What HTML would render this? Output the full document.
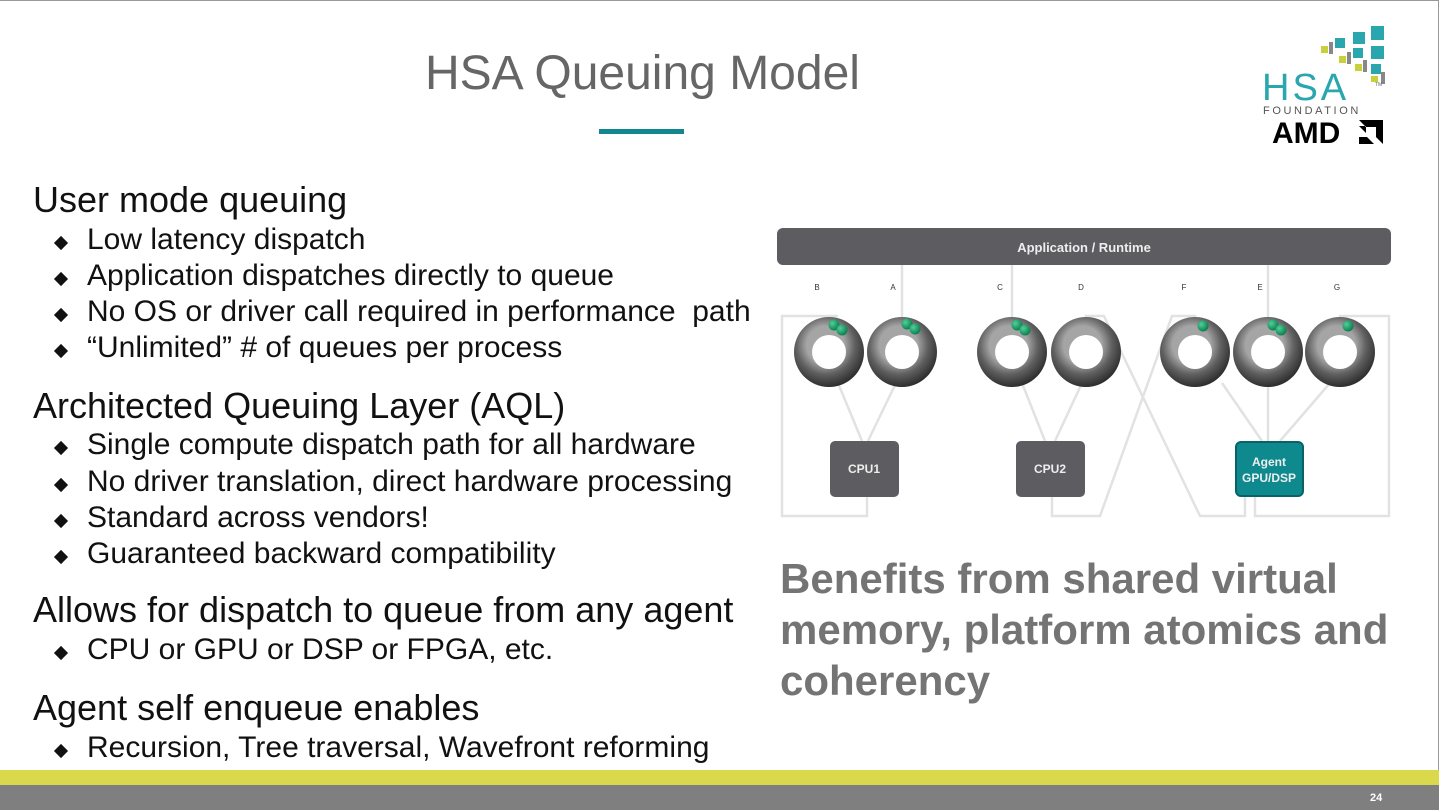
<!DOCTYPE html>
<html><head><meta charset="utf-8"><style>
body{margin:0;width:1439px;height:810px;position:relative;background:#fff;overflow:hidden;font-family:"Liberation Sans",Arial,sans-serif;}
.t{position:absolute;white-space:nowrap;line-height:1;color:#111;}
.h{font-size:36px;left:33px;}
.b{font-size:30px;left:87px;}
.d{position:absolute;left:56px;width:10px;height:10px;background:#111;transform:rotate(45deg);}
.ben{position:absolute;left:780px;font-size:42px;font-weight:bold;color:#747474;line-height:1;white-space:nowrap;}
</style></head><body>
<div style="position:absolute;left:0;top:0;width:1438px;height:1px;background:#999"></div>
<div style="position:absolute;right:0;top:0;width:1px;height:770px;background:#999"></div>
<div class="t" style="left:425px;top:50px;font-size:48px;color:#666;">HSA Queuing Model</div>
<div style="position:absolute;left:599px;top:129px;width:85px;height:5px;background:#13878d"></div>

<!-- logo -->
<svg style="position:absolute;left:1255px;top:20px" width="140" height="130">
<g fill="#2aa6ae"><rect x="116" y="6" width="13" height="14"/><rect x="98" y="12" width="12" height="12"/><rect x="80" y="18" width="10" height="10"/><rect x="116" y="26" width="13" height="13"/><rect x="98" y="28" width="10" height="10"/><rect x="116" y="44" width="10" height="10"/></g>
<g fill="#c8d13a"><rect x="66" y="26" width="7" height="7"/><rect x="84" y="36" width="7" height="7"/><rect x="100" y="44" width="7" height="7"/><rect x="116" y="56" width="7" height="6"/></g>
<g fill="#888"><rect x="74" y="22" width="4" height="12"/><rect x="92" y="32" width="4" height="12"/><rect x="108" y="40" width="4" height="12"/><rect x="126" y="52" width="4" height="12"/></g>
<text x="7" y="80" font-size="38" fill="#2aa6ae" font-family="Liberation Sans" letter-spacing="3">HSA</text>
<text x="120" y="66" font-size="5" fill="#666">TM</text>
<text x="8" y="94" font-size="11" fill="#555" letter-spacing="2.6">FOUNDATION</text>
<text x="17" y="123" font-size="30" font-weight="bold" fill="#000" font-family="Liberation Sans">AMD</text>
<path d="M104 100h24v24l-7-7v-10h-10z M104 106l7 7v-7z M104 109v15h15l-7-7h-8z" fill="#000"/>
</svg>

<div class="t h" style="top:182px">User mode queuing</div>
<div class="d" style="top:238px"></div><div class="t b" style="top:225px">Low latency dispatch</div>
<div class="d" style="top:274px"></div><div class="t b" style="top:261px">Application dispatches directly to queue</div>
<div class="d" style="top:310px"></div><div class="t b" style="top:297px">No OS or driver call required in performance&nbsp; path</div>
<div class="d" style="top:346px"></div><div class="t b" style="top:333px">“Unlimited” # of queues per process</div>
<div class="t h" style="top:388px">Architected Queuing Layer (AQL)</div>
<div class="d" style="top:443px"></div><div class="t b" style="top:430px">Single compute dispatch path for all hardware</div>
<div class="d" style="top:480px"></div><div class="t b" style="top:467px">No driver translation, direct hardware processing</div>
<div class="d" style="top:516px"></div><div class="t b" style="top:503px">Standard across vendors!</div>
<div class="d" style="top:552px"></div><div class="t b" style="top:539px">Guaranteed backward compatibility</div>
<div class="t h" style="top:592px">Allows for dispatch to queue from any agent</div>
<div class="d" style="top:648px"></div><div class="t b" style="top:635px">CPU or GPU or DSP or FPGA, etc.</div>
<div class="t h" style="top:690px">Agent self enqueue enables</div>
<div class="d" style="top:746px"></div><div class="t b" style="top:733px">Recursion, Tree traversal, Wavefront reforming</div>

<svg style="position:absolute;left:0;top:0" width="1439" height="810">
<defs>
<radialGradient id="rg" cx="0.45" cy="0.4" r="0.6"><stop offset="0.45" stop-color="#a5a5a5"/><stop offset="0.7" stop-color="#606060"/><stop offset="1" stop-color="#2e2e2e"/></radialGradient>
<radialGradient id="gb" cx="0.35" cy="0.35" r="0.7"><stop offset="0" stop-color="#4fd09a"/><stop offset="1" stop-color="#0a7a4c"/></radialGradient>
</defs>
<rect x="777" y="228" width="614" height="37" rx="6" fill="#5d5c61"/>
<text x="1084" y="252" text-anchor="middle" font-size="13" font-weight="bold" fill="#eee">Application / Runtime</text>
<g font-size="8" fill="#333" text-anchor="middle">
<text x="817" y="290">B</text><text x="893" y="290">A</text><text x="1000" y="290">C</text><text x="1081" y="290">D</text><text x="1184" y="290">F</text><text x="1260" y="290">E</text><text x="1337" y="290">G</text></g>
<g stroke="#e2e2e2" stroke-width="2.5" fill="none">
<path d="M902 265V335M1012 265V335M1268 265V335"/>
<path d="M830 335V316M838 316H782V516H867V497"/>
<path d="M1086 335V316H1104L1200 516H1245V497"/>
<path d="M1195 335V316H1172L1100 516H1052V497"/>
<path d="M1340 335V316H1389V516H1255V497"/>
<path d="M838 383L862 441M896 383L868 441M1022 383L1045 441M1082 383L1055 441M1222 383L1262 441M1268 383V441M1330 383L1280 441"/>
</g>
<g fill="#ddd"><path d="M826 332h8l-4 5zM898 332h8l-4 5zM1008 332h8l-4 5zM1082 332h8l-4 5zM1191 332h8l-4 5zM1264 332h8l-4 5zM1336 332h8l-4 5z"/></g>
<g>
<circle cx="829" cy="352" r="35" fill="url(#rg)"/><circle cx="829" cy="352" r="17" fill="#fff"/>
<circle cx="902" cy="352" r="35" fill="url(#rg)"/><circle cx="902" cy="352" r="17" fill="#fff"/>
<circle cx="1012" cy="352" r="35" fill="url(#rg)"/><circle cx="1012" cy="352" r="17" fill="#fff"/>
<circle cx="1086" cy="352" r="35" fill="url(#rg)"/><circle cx="1086" cy="352" r="17" fill="#fff"/>
<circle cx="1195" cy="352" r="35" fill="url(#rg)"/><circle cx="1195" cy="352" r="17" fill="#fff"/>
<circle cx="1268" cy="352" r="35" fill="url(#rg)"/><circle cx="1268" cy="352" r="17" fill="#fff"/>
<circle cx="1340" cy="352" r="35" fill="url(#rg)"/><circle cx="1340" cy="352" r="17" fill="#fff"/>
</g>
<g fill="url(#gb)">
<circle cx="834" cy="325" r="5.5"/><circle cx="842" cy="330" r="5.5"/>
<circle cx="907" cy="324" r="5.5"/><circle cx="915" cy="329" r="5.5"/>
<circle cx="1017" cy="325" r="5.5"/><circle cx="1025" cy="330" r="5.5"/>
<circle cx="1203" cy="326" r="5.5"/>
<circle cx="1273" cy="325" r="5.5"/><circle cx="1281" cy="330" r="5.5"/>
<circle cx="1348" cy="326" r="5.5"/>
</g>
<rect x="830" y="441" width="69" height="56" rx="5" fill="#5d5c61"/>
<text x="864" y="473" text-anchor="middle" font-size="12" font-weight="bold" fill="#eee">CPU1</text>
<rect x="1016" y="441" width="69" height="56" rx="5" fill="#5d5c61"/>
<text x="1050" y="473" text-anchor="middle" font-size="12" font-weight="bold" fill="#eee">CPU2</text>
<rect x="1236" y="442" width="67" height="54" rx="5" fill="#0e8a8f" stroke="#0a6266" stroke-width="2"/>
<text x="1269" y="466" text-anchor="middle" font-size="12" font-weight="bold" fill="#eee">Agent</text>
<text x="1269" y="482" text-anchor="middle" font-size="12" font-weight="bold" fill="#eee">GPU/DSP</text>
</svg>

<div class="ben" style="top:558px">Benefits from shared virtual</div>
<div class="ben" style="top:609px">memory, platform atomics and</div>
<div class="ben" style="top:660px">coherency</div>

<div style="position:absolute;left:0;top:770px;width:1439px;height:15px;background:#d9d94b"></div>
<div style="position:absolute;left:0;top:785px;width:1439px;height:25px;background:#7f7f7f"></div>
<div class="t" style="left:1370px;top:793px;font-size:11px;color:#fff;font-weight:bold">24</div>
</body></html>
